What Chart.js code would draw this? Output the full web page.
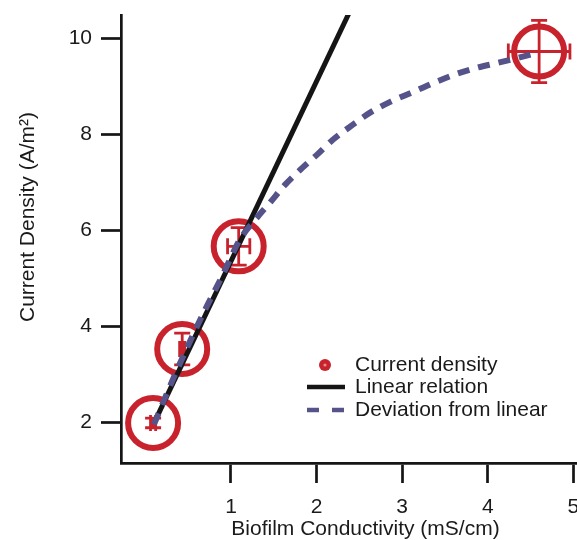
<!DOCTYPE html>
<html><head><meta charset="utf-8">
<script src="https://cdn.jsdelivr.net/npm/chart.js@4.4.1/dist/chart.umd.min.js"></script>
<style>
html,body{margin:0;padding:0;background:#fff;overflow:hidden;width:577px;height:540px;}
#wrap{position:absolute;left:0;top:0;width:610px;height:540px;}
</style></head><body>
<div id="wrap"><canvas id="c" width="610" height="540"></canvas></div>
<script>
// ---- data ----
const conductivity    = [0.09, 0.43, 1.09, 4.60];
const currentDensity  = [1.98, 3.52, 5.66, 9.72];
const conductivityErr = [0.03, 0.03, 0.13, 0.36];
const densityErr      = [0.10, 0.33, 0.39, 0.65];
const linearX = [0.12, 2.60];
const linearY = [2.05, 11.35];
const curveX = [0.10, 0.30, 0.50, 0.70, 0.90, 1.10, 1.30, 1.46, 1.63, 1.83, 2.00, 2.19, 2.42, 2.62, 2.86, 3.13, 3.36, 3.60, 3.87, 4.11, 4.34, 4.60];
const curveY = [1.95, 2.80, 3.60, 4.35, 5.05, 5.79, 6.25, 6.58, 6.94, 7.29, 7.56, 7.88, 8.19, 8.44, 8.67, 8.88, 9.06, 9.23, 9.38, 9.48, 9.58, 9.70];
const xTicks = [1, 2, 3, 4, 5];
const yTicks = [2, 4, 6, 8, 10];
const seriesNames = ['Current density', 'Linear relation', 'Deviation from linear'];
const xTitle = 'Biofilm Conductivity (mS/cm)';
const yTitle = 'Current Density (A/m\u00B2)';

// ---- styles ----
const RED = '#c8232d';
const BLACK = '#151515';
const SLATE = '#55538a';
const TEXT = '#1a1a1a';
const FONT = '"Liberation Sans", Arial, Helvetica, sans-serif';
const FS = 21;

const zip = (xs, ys) => xs.map((v, i) => ({x: v, y: ys[i]}));

const errorBars = {
  id: 'errorBars',
  afterDatasetDraw(chart, args) {
    if (args.index !== 0) return;
    const {ctx, scales: {x, y}} = chart;
    const cap = 8;
    ctx.save();
    ctx.strokeStyle = RED;
    ctx.lineWidth = 2.8;
    ctx.lineCap = 'butt';
    for (let i = 0; i < conductivity.length; i++) {
      const px = x.getPixelForValue(conductivity[i]);
      const py = y.getPixelForValue(currentDensity[i]);
      const yt = y.getPixelForValue(currentDensity[i] + densityErr[i]);
      const yb = y.getPixelForValue(currentDensity[i] - densityErr[i]);
      const xl = x.getPixelForValue(conductivity[i] - conductivityErr[i]);
      const xr = x.getPixelForValue(conductivity[i] + conductivityErr[i]);
      ctx.beginPath();
      ctx.moveTo(px, yt); ctx.lineTo(px, yb);
      ctx.moveTo(px - cap, yt); ctx.lineTo(px + cap, yt);
      ctx.moveTo(px - cap, yb); ctx.lineTo(px + cap, yb);
      ctx.moveTo(xl, py); ctx.lineTo(xr, py);
      ctx.moveTo(xl, py - cap); ctx.lineTo(xl, py + cap);
      ctx.moveTo(xr, py - cap); ctx.lineTo(xr, py + cap);
      ctx.stroke();
    }
    ctx.restore();
  }
};

const yAxisTitle = {
  id: 'yAxisTitle',
  afterDraw(chart) {
    const ctx = chart.ctx;
    ctx.save();
    ctx.translate(28, 217);
    ctx.rotate(-Math.PI / 2);
    ctx.fillStyle = TEXT;
    ctx.font = FS + 'px ' + FONT;
    ctx.textAlign = 'center';
    ctx.textBaseline = 'middle';
    ctx.fillText(yTitle, 0, 0);
    ctx.restore();
  }
};

const customLegend = {
  id: 'customLegend',
  afterDraw(chart) {
    const ctx = chart.ctx;
    const tx = 355, rows = [365, 387, 410];
    ctx.save();
    ctx.fillStyle = RED;
    ctx.beginPath(); ctx.arc(325, rows[0], 6, 0, Math.PI * 2); ctx.fill();
    ctx.fillStyle = 'rgba(255,200,200,0.6)';
    ctx.beginPath(); ctx.arc(325, rows[0], 1.6, 0, Math.PI * 2); ctx.fill();
    ctx.strokeStyle = BLACK; ctx.lineWidth = 4.5; ctx.lineCap = 'butt';
    ctx.beginPath(); ctx.moveTo(307, rows[1]); ctx.lineTo(345, rows[1]); ctx.stroke();
    ctx.strokeStyle = SLATE;
    ctx.beginPath();
    ctx.moveTo(307, rows[2]); ctx.lineTo(319, rows[2]);
    ctx.moveTo(332, rows[2]); ctx.lineTo(344, rows[2]);
    ctx.stroke();
    ctx.fillStyle = TEXT;
    ctx.font = FS + 'px ' + FONT;
    ctx.textAlign = 'left';
    ctx.textBaseline = 'middle';
    seriesNames.forEach((t, i) => ctx.fillText(t, tx, rows[i]));
    ctx.restore();
  }
};

new Chart(document.getElementById('c'), {
  type: 'scatter',
  data: {
    datasets: [
      {
        label: seriesNames[0],
        data: zip(conductivity, currentDensity),
        pointRadius: 25,
        pointHoverRadius: 25,
        pointBorderWidth: 6,
        pointBackgroundColor: 'rgba(0,0,0,0)',
        pointBorderColor: RED,
        showLine: false,
        order: 2,
        clip: false
      },
      {
        label: seriesNames[1],
        data: zip(linearX, linearY),
        showLine: true,
        borderColor: BLACK,
        borderWidth: 5,
        pointRadius: 0,
        order: 1
      },
      {
        label: seriesNames[2],
        data: zip(curveX, curveY),
        showLine: true,
        borderColor: SLATE,
        borderWidth: 6,
        borderDash: [12, 9],
        borderCapStyle: 'butt',
        cubicInterpolationMode: 'monotone',
        pointRadius: 0,
        order: 0
      }
    ]
  },
  options: {
    responsive: false,
    devicePixelRatio: 1,
    animation: false,
    events: [],
    layout: {autoPadding: false, padding: {top: 15, left: 0, right: 0, bottom: 0}},
    plugins: {legend: {display: false}, tooltip: {enabled: false}},
    scales: {
      x: {
        type: 'linear',
        position: 'bottom',
        min: -0.285,
        max: 5.428,
        afterBuildTicks: s => { s.ticks = xTicks.map(v => ({value: v})); },
        afterFit: s => { s.height = 77; s.paddingLeft = 0; s.paddingRight = 0; },
        ticks: {font: {size: FS, family: FONT}, color: TEXT, padding: 12, maxRotation: 0, autoSkip: false},
        grid: {display: true, drawOnChartArea: false, drawTicks: true, tickLength: 20, tickWidth: 2.7, tickColor: BLACK},
        border: {display: true, color: BLACK, width: 2.7},
        title: {display: true, text: xTitle, font: {size: FS, family: FONT}, color: TEXT, padding: {top: 0, bottom: -2}}
      },
      y: {
        type: 'linear',
        position: 'left',
        min: 1.146,
        max: 10.48,
        afterBuildTicks: s => { s.ticks = yTicks.map(v => ({value: v})); },
        afterFit: s => { s.width = 121; s.paddingTop = 0; s.paddingBottom = 0; },
        ticks: {font: {size: FS, family: FONT}, color: TEXT, padding: 9},
        grid: {display: true, drawOnChartArea: false, drawTicks: true, tickLength: 20, tickWidth: 2.7, tickColor: BLACK},
        border: {display: true, color: BLACK, width: 2.7},
        title: {display: false, text: yTitle}
      }
    }
  },
  plugins: [errorBars, yAxisTitle, customLegend]
});
</script>
</body></html>
